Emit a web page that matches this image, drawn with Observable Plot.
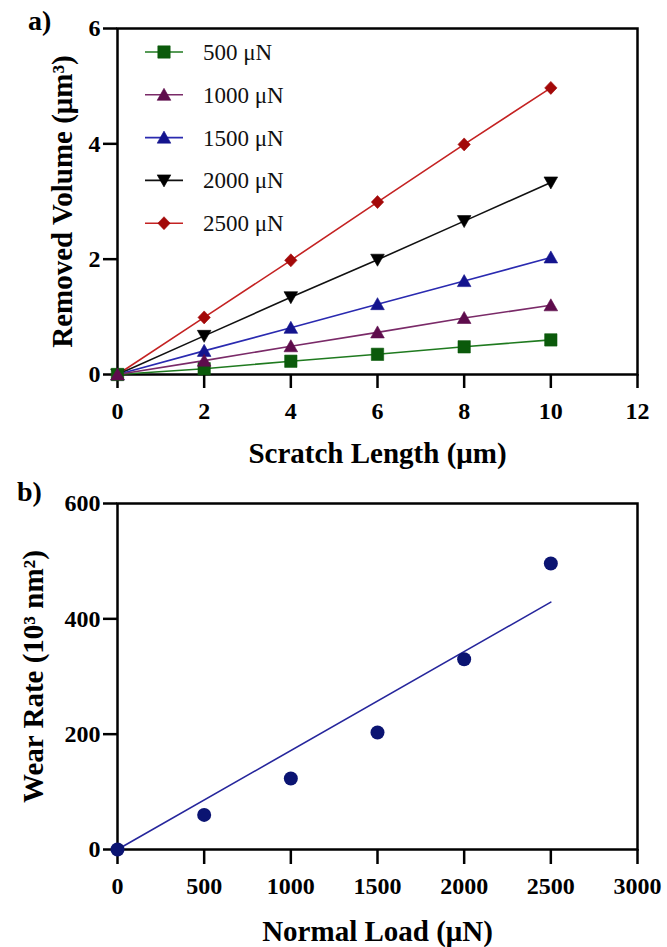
<!DOCTYPE html>
<html>
<head>
<meta charset="utf-8">
<script src="https://cdn.jsdelivr.net/npm/d3@7"></script>
<script src="https://cdn.jsdelivr.net/npm/@observablehq/plot@0.6"></script>
<style>
  body { margin: 0; background: #fff; }
  #wrap { position: relative; width: 667px; height: 947px; font-family: "Liberation Serif", "Times New Roman", serif; color: #000; }
  .panel { position: absolute; left: 0; }
  .tag { position: absolute; font-weight: bold; font-size: 28px; line-height: 1; }
  #legend { position: absolute; left: 0; top: 0; pointer-events: none; }
  g[aria-label="x-axis label"] text, g[aria-label="y-axis label"] text { font-size: 29px; }
</style>
</head>
<body>
<div id="wrap">
  <div id="pa" class="panel" style="top:0px"></div>
  <div id="pb" class="panel" style="top:475px"></div>
  <div class="tag" style="left:28px;top:7px">a)</div>
  <div class="tag" style="left:17px;top:478px">b)</div>
  <svg id="legend" width="400" height="250"></svg>
</div>
<script>
// ---------- Data: panel a ----------
const scratchLength = [0, 2, 4, 6, 8, 10];
const seriesLabels = ["500 μN", "1000 μN", "1500 μN", "2000 μN", "2500 μN"];
const vol500  = [0, 0.10, 0.23, 0.35, 0.48, 0.60];
const vol1000 = [0, 0.24, 0.49, 0.73, 0.98, 1.20];
const vol1500 = [0, 0.41, 0.81, 1.22, 1.62, 2.03];
const vol2000 = [0, 0.67, 1.34, 1.99, 2.66, 3.33];
const vol2500 = [0, 0.99, 1.98, 2.99, 3.99, 4.97];
const xTicksA = [0, 2, 4, 6, 8, 10, 12];
const yTicksA = [0, 2, 4, 6];

// ---------- Data: panel b ----------
const normalLoad = [0, 500, 1000, 1500, 2000, 2500];
const wearRate   = [0, 60, 123, 203, 330, 496];
const fitLoad = [0, 2500];
const fitRate = [0, 429];
const xTicksB = [0, 500, 1000, 1500, 2000, 2500, 3000];
const yTicksB = [0, 200, 400, 600];

// ---------- Styles ----------
const lineColors   = ["#1f7a1f", "#7a2a68", "#2a2ab0", "#111111", "#c42222"];
const markerColors = ["#0b5a0b", "#5e0c4c", "#14148e", "#000000", "#a30909"];
const font = "'Liberation Serif', 'Times New Roman', serif";
const fmt = d3.format("d");

// custom symbols
const rOf = (size) => Math.sqrt(size / Math.PI);
const symSquare = { draw(c, size) { const r = rOf(size) * 0.95; c.moveTo(-r, -r); c.lineTo(r, -r); c.lineTo(r, r); c.lineTo(-r, r); c.closePath(); } };
const symTriUp = { draw(c, size) { const r = rOf(size); c.moveTo(0, -1.0 * r); c.lineTo(1.05 * r, 0.85 * r); c.lineTo(-1.05 * r, 0.85 * r); c.closePath(); } };
const symTriDown = { draw(c, size) { const r = rOf(size); c.moveTo(0, 1.0 * r); c.lineTo(1.05 * r, -0.85 * r); c.lineTo(-1.05 * r, -0.85 * r); c.closePath(); } };
const symDiamond = { draw(c, size) { const r = rOf(size); c.moveTo(0, -r); c.lineTo(0.95 * r, 0); c.lineTo(0, r); c.lineTo(-0.95 * r, 0); c.closePath(); } };
const symbols = [symSquare, symTriUp, symTriUp, symTriDown, symDiamond];
const markerR = 6.5;

const allVols = [vol500, vol1000, vol1500, vol2000, vol2500];
const rowsA = seriesLabels.flatMap((s, k) => scratchLength.map((x, i) => ({ series: s, k, len: x, vol: allVols[k][i] })));
const drawOrder = [4, 3, 2, 0, 1];

const baseStyle = { fontFamily: font, fontSize: "24px", fontWeight: "bold", color: "#000", background: "transparent", overflow: "visible" };

// ---------- Panel a ----------
const chartA = Plot.plot({
  width: 667, height: 475,
  marginLeft: 117, marginRight: 30, marginTop: 28, marginBottom: 101,
  style: baseStyle,
  x: { domain: [0, 12] },
  y: { domain: [0, 6] },
  marks: [
    Plot.frame({ stroke: "#000", strokeWidth: 2.5 }),
    Plot.axisX({ ticks: xTicksA, tickFormat: fmt, tickSize: 14, tickPadding: 13, strokeWidth: 2.5, label: "Scratch Length (μm)", labelAnchor: "center", labelOffset: 88, labelArrow: "none" }),
    Plot.axisY({ ticks: yTicksA, tickFormat: fmt, tickSize: 14, tickPadding: 3, strokeWidth: 2.5, label: "Removed Volume (μm³)", labelAnchor: "center", labelOffset: 66, labelArrow: "none" }),
    ...drawOrder.map(k => Plot.line(rowsA.filter(d => d.k === k), { x: "len", y: "vol", stroke: lineColors[k], strokeWidth: 1.6 })),
    ...drawOrder.map(k => Plot.dot(rowsA.filter(d => d.k === k), { x: "len", y: "vol", symbol: symbols[k], r: markerR, fill: markerColors[k], stroke: markerColors[k], strokeWidth: 0.6 }))
  ]
});
document.getElementById("pa").appendChild(chartA);

// ---------- Panel b ----------
const rowsB = normalLoad.map((x, i) => ({ load: x, rate: wearRate[i] }));
const fitRows = fitLoad.map((x, i) => ({ load: x, rate: fitRate[i] }));
const chartB = Plot.plot({
  width: 667, height: 472,
  marginLeft: 117, marginRight: 30, marginTop: 28, marginBottom: 98,
  style: baseStyle,
  x: { domain: [0, 3000] },
  y: { domain: [0, 600] },
  marks: [
    Plot.frame({ stroke: "#000", strokeWidth: 2.5 }),
    Plot.axisX({ ticks: xTicksB, tickFormat: fmt, tickSize: 15, tickPadding: 12, strokeWidth: 2.5, label: "Normal Load (μN)", labelAnchor: "center", labelOffset: 91, labelArrow: "none" }),
    Plot.axisY({ ticks: yTicksB, tickFormat: fmt, tickSize: 14, tickPadding: 3, strokeWidth: 2.5, label: "Wear Rate (10³ nm²)", labelAnchor: "center", labelOffset: 95, labelArrow: "none" }),
    Plot.line(fitRows, { x: "load", y: "rate", stroke: "#26269c", strokeWidth: 1.6 }),
    Plot.dot(rowsB, { x: "load", y: "rate", r: 7, fill: "#0b1472", stroke: "none" })
  ]
});
document.getElementById("pb").appendChild(chartB);

// ---------- Legend (panel a) ----------
const leg = d3.select("#legend");
const rowY0 = 52, rowStep = 42.8;
seriesLabels.forEach((label, k) => {
  const g = leg.append("g").attr("transform", `translate(0,${rowY0 + k * rowStep})`);
  g.append("line").attr("x1", 145).attr("x2", 183).attr("y1", 0).attr("y2", 0)
    .attr("stroke", lineColors[k]).attr("stroke-width", 1.6);
  g.append("path").attr("transform", "translate(164,0)")
    .attr("d", d3.symbol(symbols[k], markerR * markerR * Math.PI)())
    .attr("fill", markerColors[k]).attr("stroke", markerColors[k]).attr("stroke-width", 0.6);
  g.append("text").attr("x", 203).attr("y", 0).attr("dy", "0.35em")
    .attr("font-family", font).attr("font-size", 23).attr("fill", "#111")
    .text(label);
});
</script>
</body>
</html>
